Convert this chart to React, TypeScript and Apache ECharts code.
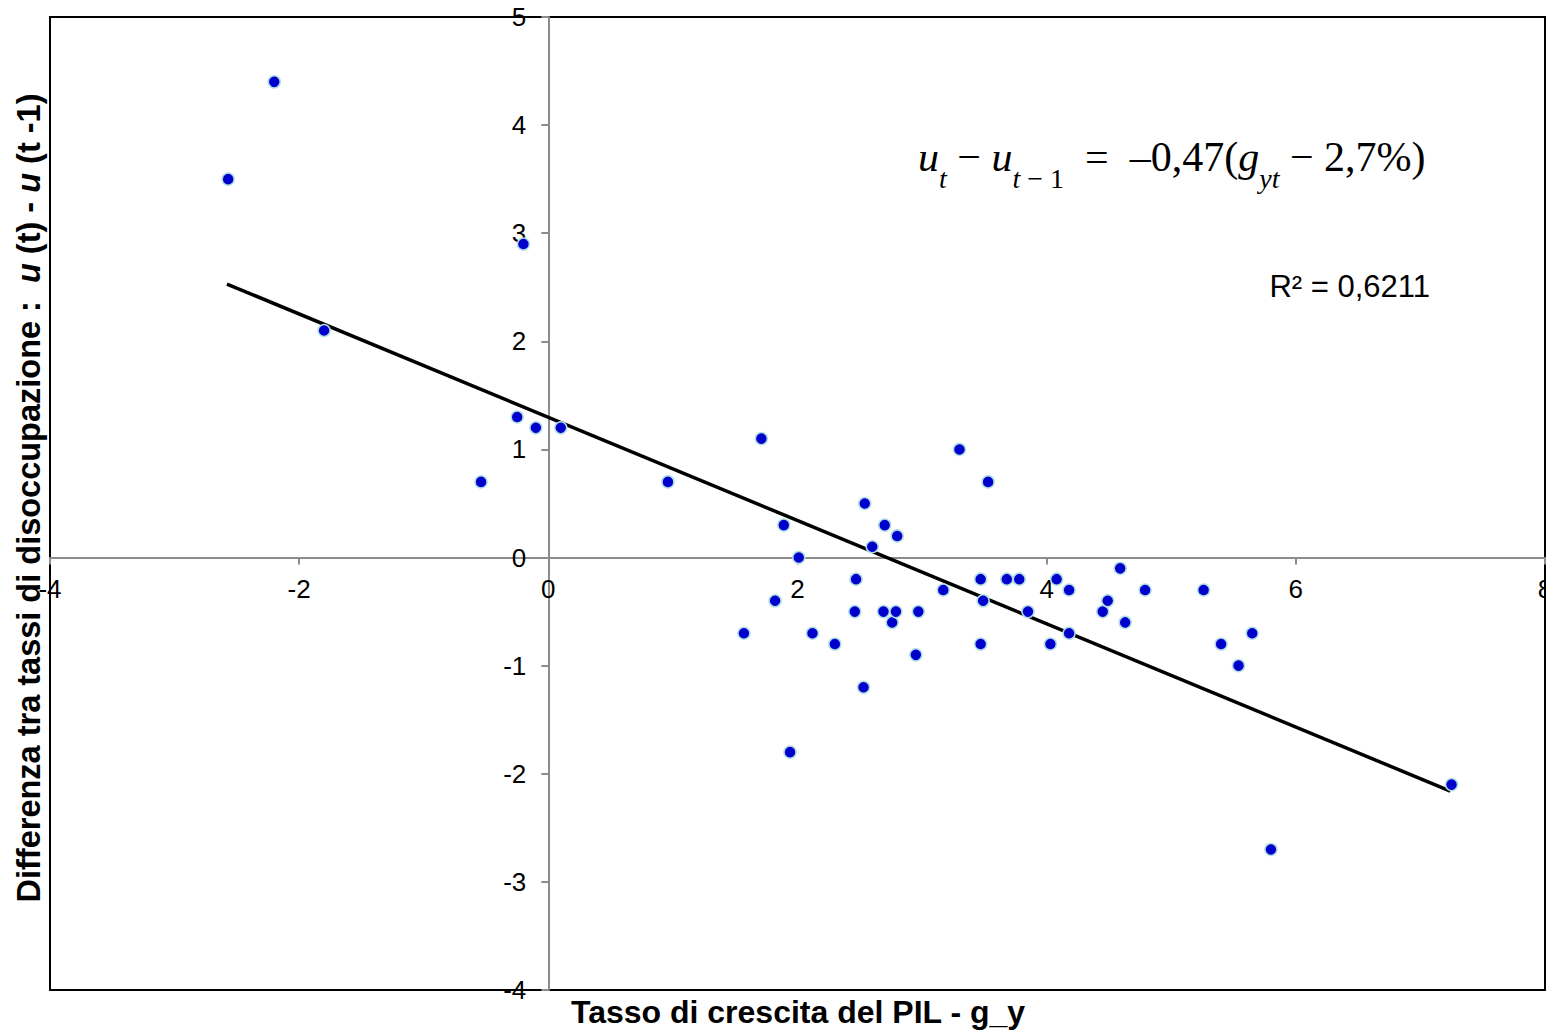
import React, { useEffect, useRef } from "react";
import * as echarts from "echarts";

// Tasso di crescita del PIL (g_y)
const growthRate: number[] = [
  -2.2, -2.57, -0.2, -1.8, -0.25, -0.1, 0.1, -0.54, 0.96, 1.71,
  1.89, 2.01, 1.82, 1.57, 2.12, 1.94, 2.3, 2.47, 2.46, 2.54,
  2.6, 2.7, 2.8, 2.69, 2.76, 2.79, 2.53, 2.97, 2.95, 3.17,
  3.3, 3.53, 3.47, 3.49, 3.47, 3.68, 3.78, 3.85, 4.03, 4.08,
  4.18, 4.18, 4.45, 4.49, 4.59, 4.63, 4.79, 5.26, 5.4, 5.54,
  5.65, 5.8, 7.25,
];

// Differenza tra tassi di disoccupazione u(t) - u(t-1)
const unempChange: number[] = [
  4.4, 3.5, 2.9, 2.1, 1.3, 1.2, 1.2, 0.7, 0.7, 1.1,
  0.3, 0.0, -0.4, -0.7, -0.7, -1.8, -0.8, -0.2, -0.5, 0.5,
  0.1, 0.3, 0.2, -0.5, -0.6, -0.5, -1.2, -0.5, -0.9, -0.3,
  1.0, 0.7, -0.2, -0.4, -0.8, -0.2, -0.2, -0.5, -0.8, -0.2,
  -0.3, -0.7, -0.5, -0.4, -0.1, -0.6, -0.3, -0.3, -0.8, -1.0,
  -0.7, -2.7, -2.1,
];

// Trend line endpoints
const trendX: number[] = [-2.58, 7.24];
const trendY: number[] = [2.53, -2.16];

const xAxisRange = { min: -4, max: 8, interval: 2 };
const yAxisRange = { min: -4, max: 5, interval: 1 };

const xAxisTitle = "Tasso di crescita del PIL - g_y";
const rSquaredText = "R² = 0,6211";

const SANS = '"Liberation Sans", Arial, sans-serif';
const SERIF = '"Liberation Serif", "Times New Roman", serif';

export default function App() {
  const ref = useRef<HTMLDivElement>(null);

  useEffect(() => {
    if (!ref.current) return;
    const chart = echarts.init(ref.current, undefined, { renderer: "svg" });

    const points = growthRate.map((x, i) => [x, unempChange[i]]);
    const trend = trendX.map((x, i) => [x, trendY[i]]);

    const axisGray = "#8c8c8c";

    const gridLeft = 50;
    const gridTop = 17;
    const gridWidth = 1495;
    const gridHeight = 973;

    // place axes at zero crossing (axes cross at 0,0)
    const xAxisOffset = -gridHeight * (0 - yAxisRange.min) / (yAxisRange.max - yAxisRange.min);
    const yAxisOffset = -gridWidth * (0 - xAxisRange.min) / (xAxisRange.max - xAxisRange.min);

    const eqBase = { fontFamily: SERIF, fontSize: 42, lineHeight: 42, color: "#000" };
    const eqSub = { fontFamily: SERIF, fontSize: 28, lineHeight: 28, color: "#000", padding: [42, 0, 0, 0] };

    const yTitleBase = { fontFamily: SANS, fontSize: 32.5, fontWeight: "bold", color: "#000" };

    chart.setOption({
      animation: false,
      backgroundColor: "#fff",
      grid: {
        left: gridLeft,
        top: gridTop,
        width: gridWidth,
        height: gridHeight,
        containLabel: false,
        outerBoundsMode: "none",
        show: true,
        borderColor: "#000",
        borderWidth: 2,
        backgroundColor: "transparent",
      },
      xAxis: {
        type: "value",
        position: "bottom",
        offset: xAxisOffset,
        min: xAxisRange.min,
        max: xAxisRange.max,
        interval: xAxisRange.interval,
        axisLine: { show: true, onZero: false, lineStyle: { color: axisGray, width: 2 } },
        axisTick: { show: true, length: 7, lineStyle: { color: axisGray, width: 2 } },
        axisLabel: { color: "#000", fontSize: 26, fontFamily: SANS, margin: 18 },
        splitLine: { show: false },
      },
      yAxis: {
        type: "value",
        position: "left",
        offset: yAxisOffset,
        min: yAxisRange.min,
        max: yAxisRange.max,
        interval: yAxisRange.interval,
        axisLine: { show: true, onZero: false, lineStyle: { color: axisGray, width: 2 } },
        axisTick: { show: true, length: 7, lineStyle: { color: axisGray, width: 2 } },
        axisLabel: { color: "#000", fontSize: 26, fontFamily: SANS, margin: 22 },
        splitLine: { show: false },
      },
      series: [
        {
          type: "line",
          data: trend,
          showSymbol: false,
          symbol: "none",
          silent: true,
          lineStyle: { color: "#000", width: 3.5 },
          z: 2,
        },
        {
          type: "scatter",
          data: points,
          symbol: "circle",
          symbolSize: 12,
          itemStyle: { color: "#0000cc", borderColor: "#b0dce6", borderWidth: 1.5, opacity: 1 },
          z: 3,
        },
      ],
      graphic: [
        {
          type: "text",
          x: 918,
          y: 157,
          z: 10,
          style: {
            text:
              "{bi|u}{si|t}{b| − }{bi|u}{si|t}{s| − 1}{b|  =  –0,47(}{bi|g}{si|yt}{b| − 2,7%)}",
            align: "left",
            verticalAlign: "middle",
            rich: {
              b: { ...eqBase },
              bi: { ...eqBase, fontStyle: "italic" },
              s: { ...eqSub },
              si: { ...eqSub, fontStyle: "italic" },
            },
          },
        },
        {
          type: "text",
          x: 1430,
          y: 286,
          z: 10,
          style: {
            text: rSquaredText,
            font: `31px ${SANS}`,
            fill: "#000",
            align: "right",
            verticalAlign: "middle",
          },
        },
        {
          type: "text",
          x: 798,
          y: 1012,
          z: 10,
          style: {
            text: xAxisTitle,
            font: `bold 32px ${SANS}`,
            fill: "#000",
            align: "center",
            verticalAlign: "middle",
          },
        },
        {
          type: "text",
          x: 29,
          y: 498,
          rotation: Math.PI / 2,
          z: 10,
          style: {
            text: "{n|Differenza tra tassi di disoccupazione :  }{i|u}{n| (t) - }{i|u}{n| (t -1)}",
            align: "center",
            verticalAlign: "middle",
            rich: {
              n: { ...yTitleBase },
              i: { ...yTitleBase, fontStyle: "italic" },
            },
          },
        },
      ],
    });

    return () => {
      chart.dispose();
    };
  }, []);

  return (
    <div
      ref={ref}
      style={{ position: "absolute", left: 0, top: 0, width: 1546, height: 1034 }}
    />
  );
}
